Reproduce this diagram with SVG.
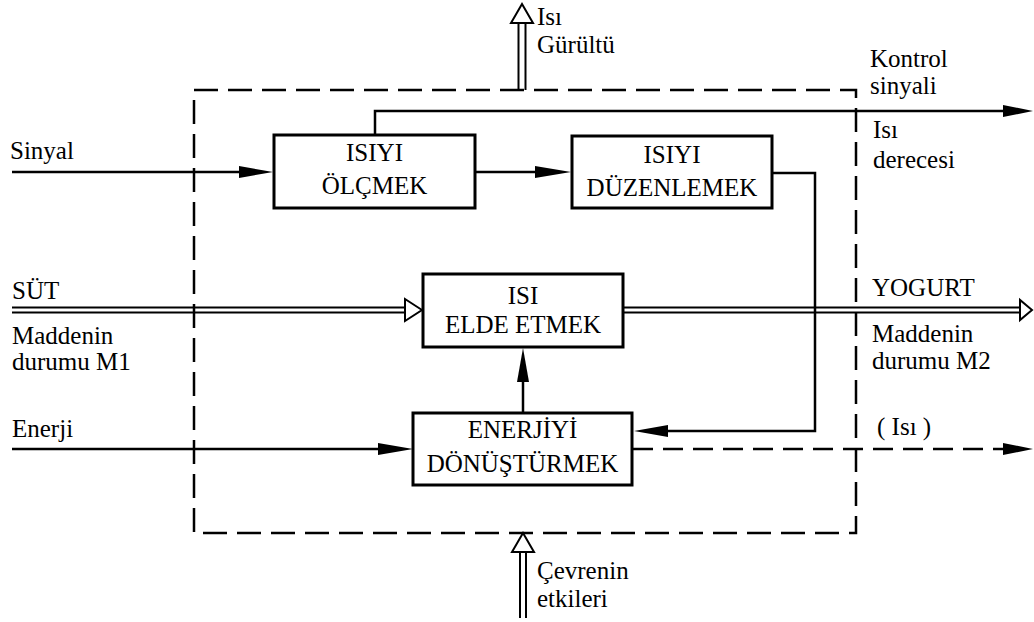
<svg xmlns="http://www.w3.org/2000/svg" width="1034" height="622" viewBox="0 0 1034 622">
<defs>
<style>
text{font-family:"Liberation Serif","Times New Roman",serif;font-size:25px;fill:#000}
.c{text-anchor:middle}
.box{fill:#fff;stroke:#000;stroke-width:3}
.ln{fill:none;stroke:#000;stroke-width:2.5}
.dl{fill:none;stroke:#000;stroke-width:2}
.dash{fill:none;stroke:#000;stroke-width:2.5;stroke-dasharray:24 10}
.head{fill:#000;stroke:none}
.ohead{fill:#fff;stroke:#000;stroke-width:2;stroke-linejoin:miter}
</style>
</defs>
<rect width="1034" height="622" fill="#fff"/>
<g id="boundary">
<rect class="dash" x="194" y="90" width="662" height="443"/>
</g>
<g id="connectors">
<!-- top heat/noise double arrow -->
<line class="dl" x1="518.5" y1="23" x2="518.5" y2="90"/>
<line class="dl" x1="525.5" y1="23" x2="525.5" y2="90"/>
<polygon class="ohead" points="522,4 511,23 533,23"/>
<!-- bottom environment double arrow -->
<line class="dl" x1="520" y1="552" x2="520" y2="618"/>
<line class="dl" x1="526" y1="552" x2="526" y2="618"/>
<polygon class="ohead" points="523,533 512,552 534,552"/>
<!-- control signal -->
<polyline class="ln" points="375,135 375,111 1005,111"/>
<polygon class="head" points="1033,111 1003,105 1003,117"/>
<!-- signal in -->
<line class="ln" x1="12" y1="172" x2="241" y2="172"/>
<polygon class="head" points="273,172 239,166 239,178"/>
<!-- measure -> regulate -->
<line class="ln" x1="475" y1="172" x2="537" y2="172"/>
<polygon class="head" points="571,172 535,166 535,178"/>
<!-- regulate -> energy -->
<polyline class="ln" points="772,173 815,173 815,431 666,431"/>
<polygon class="head" points="634,431 668,425 668,437"/>
<!-- SÜT in double line -->
<line class="dl" x1="12" y1="307.5" x2="406" y2="307.5"/>
<line class="dl" x1="12" y1="312.5" x2="406" y2="312.5"/>
<polygon class="ohead" points="422,310 405,299 405,321"/>
<!-- YOGURT out double line -->
<line class="dl" x1="623" y1="307.5" x2="1021" y2="307.5"/>
<line class="dl" x1="623" y1="312.5" x2="1021" y2="312.5"/>
<polygon class="ohead" points="1032,310 1020,300 1020,320"/>
<!-- energy in -->
<line class="ln" x1="12" y1="449" x2="380" y2="449"/>
<polygon class="head" points="413,449 378,443 378,455"/>
<!-- energy -> heat -->
<line class="ln" x1="523" y1="413" x2="523" y2="380"/>
<polygon class="head" points="523,348 517,382 529,382"/>
<!-- heat out dashed -->
<line class="ln" x1="633" y1="449" x2="1005" y2="449" stroke-dasharray="20 10"/>
<polygon class="head" points="1033,449 1003,443 1003,455"/>
</g>
<g id="n-olcmek">
<rect class="box" x="274" y="135" width="201" height="73"/>
<text class="c" x="374.5" y="161">ISIYI</text>
<text class="c" x="374.5" y="194">ÖLÇMEK</text>
</g>
<g id="n-duzenlemek">
<rect class="box" x="572" y="136" width="200" height="72"/>
<text class="c" x="672" y="163">ISIYI</text>
<text class="c" x="672" y="196">DÜZENLEMEK</text>
</g>
<g id="n-elde">
<rect class="box" x="423" y="274" width="200" height="73"/>
<text class="c" x="523" y="304">ISI</text>
<text class="c" x="523" y="333">ELDE ETMEK</text>
</g>
<g id="n-enerji">
<rect class="box" x="413" y="413" width="219" height="72"/>
<text class="c" x="522.5" y="438">ENERJİYİ</text>
<text class="c" x="522.5" y="472">DÖNÜŞTÜRMEK</text>
</g>
<g id="labels">
<text x="537" y="25">Isı</text>
<text x="537" y="53">Gürültü</text>
<text x="870" y="67">Kontrol</text>
<text x="870" y="94">sinyali</text>
<text x="873" y="138">Isı</text>
<text x="873" y="168">derecesi</text>
<text x="10" y="159">Sinyal</text>
<text x="12" y="299">SÜT</text>
<text x="12" y="344">Maddenin</text>
<text x="12" y="370">durumu M1</text>
<text x="12" y="437">Enerji</text>
<text x="872" y="296">YOGURT</text>
<text x="872" y="342">Maddenin</text>
<text x="872" y="369">durumu M2</text>
<text x="877" y="435">( Isı )</text>
<text x="537" y="579">Çevrenin</text>
<text x="537" y="607">etkileri</text>
</g>
</svg>
